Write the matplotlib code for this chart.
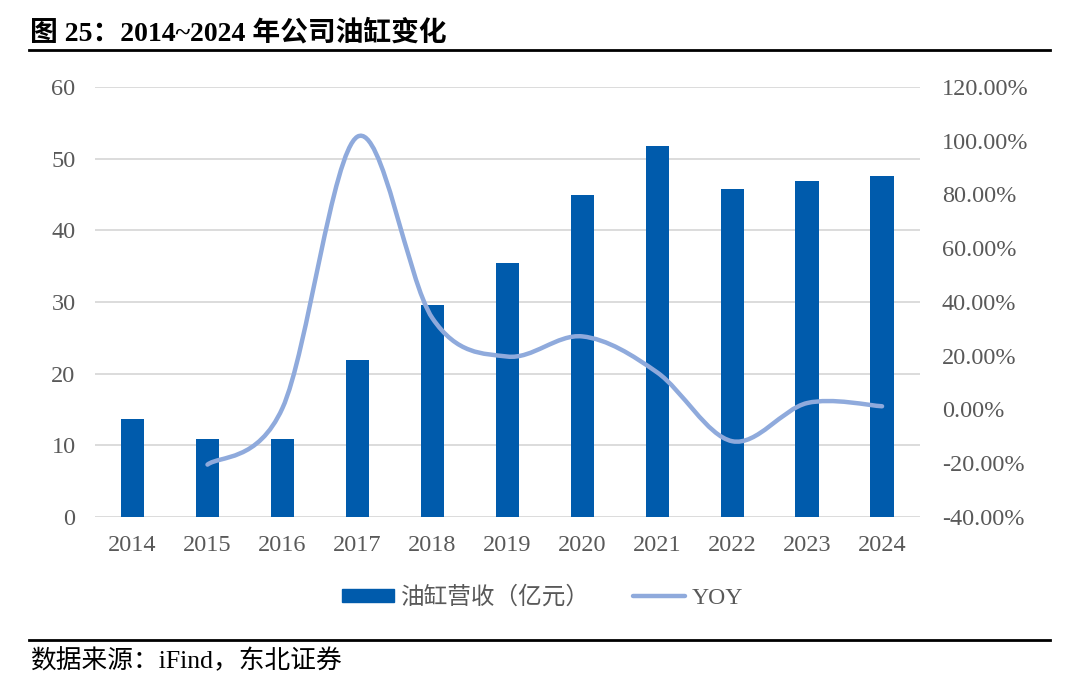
import numpy as np
import matplotlib.pyplot as plt
from matplotlib.path import Path
from matplotlib.patches import PathPatch
from matplotlib.lines import Line2D
from matplotlib.ticker import FuncFormatter

plt.rcParams['font.family'] = ['Liberation Serif', 'Noto Sans CJK SC', 'DejaVu Sans']

# data
years = ['2014', '2015', '2016', '2017', '2018', '2019', '2020', '2021', '2022', '2023', '2024']
revenue = [13.7, 10.9, 10.9, 21.9, 29.6, 35.4, 44.9, 51.8, 45.7, 46.9, 47.6]  # 亿元
yoy_years = years[1:]
yoy = [-20.5, 0.5, 101.5, 34.0, 19.7, 27.2, 13.8, -11.8, 2.4, 1.2]  # %

bar_color = '#005BAC'
line_color = '#8FAADC'
gray = '#595959'
grid = '#D9D9D9'

fig = plt.figure(figsize=(10.68, 6.98), dpi=100)
ax = fig.add_axes([0.089, 0.2593, 0.772, 0.6161])
ax2 = ax.twinx()

x = np.arange(len(years))
ax.bar(x, revenue, width=0.31, color=bar_color, zorder=2)
ax.set_xlim(-0.5, len(years) - 0.5)
ax.set_ylim(0, 60)
ax.set_yticks(range(0, 61, 10))
ax.set_xticks(x)
ax.set_xticklabels(years)
ax.yaxis.grid(True, color=grid, lw=1.3, zorder=0)
ax.set_axisbelow(True)

# smoothed YOY line (Bezier through the points, like Excel's smooth line)
xs = x[1:].astype(float)
ys = np.array(yoy, dtype=float)
verts = [(xs[0], ys[0])]
codes = [Path.MOVETO]
n = len(xs)
for i in range(n - 1):
    p0 = (xs[i - 1], ys[i - 1]) if i > 0 else (xs[i], ys[i])
    p1 = (xs[i], ys[i])
    p2 = (xs[i + 1], ys[i + 1])
    p3 = (xs[i + 2], ys[i + 2]) if i + 2 < n else p2
    c1 = (p1[0] + (p2[0] - p0[0]) / 6, p1[1] + (p2[1] - p0[1]) / 6)
    c2 = (p2[0] - (p3[0] - p1[0]) / 6, p2[1] - (p3[1] - p1[1]) / 6)
    verts += [c1, c2, p2]
    codes += [Path.CURVE4] * 3
ax2.add_patch(PathPatch(Path(verts, codes), fill=False, edgecolor=line_color,
                        lw=3.2, capstyle='round', joinstyle='round', zorder=3))
ax2.set_ylim(-40, 120)
ax2.set_yticks(range(-40, 121, 20))
ax2.yaxis.set_major_formatter(FuncFormatter(lambda v, p: f'{v:.2f}%'))

for a in (ax, ax2):
    for s in a.spines.values():
        s.set_visible(False)
    a.tick_params(length=0, labelsize=17.5, labelcolor=gray)
ax.tick_params(axis='y', pad=14)
ax.tick_params(axis='x', pad=13)
ax2.tick_params(axis='y', pad=16)

handles = [plt.Rectangle((0, 0), 1, 1, color=bar_color),
           Line2D([0], [0], color=line_color, lw=3.2, solid_capstyle='round')]
fig.legend(handles, ['油缸营收（亿元）', 'YOY'], loc='center', bbox_to_anchor=(0.508, 0.144),
           ncol=2, frameon=False, fontsize=17, labelcolor=gray, handlelength=2.2,
           handleheight=0.5, columnspacing=1.8, handletextpad=0.3)

fig.text(0.028, 0.953, '图 25：2014~2024 年公司油缸变化', fontsize=20, fontweight='bold',
         color='black', va='center', ha='left')
fig.add_artist(Line2D([0.027, 0.983], [0.929, 0.929], color='black', lw=2))
fig.add_artist(Line2D([0.027, 0.983], [0.083, 0.083], color='black', lw=2))
fig.text(0.028, 0.053, '数据来源：iFind，东北证券', fontsize=18.5, color='black',
         va='center', ha='left')

fig.savefig('out.png', dpi=100)
